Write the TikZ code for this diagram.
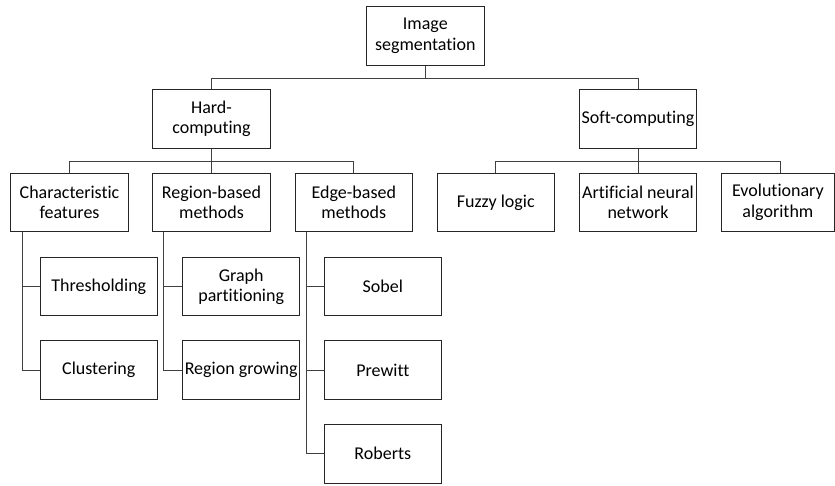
\documentclass[tikz,border=0pt]{standalone}
\usepackage{fontspec}
\setmainfont{Carlito}[Ligatures={NoCommon}]
\begin{document}
\begin{tikzpicture}[x=1pt,y=-1pt,
  box/.style={draw=black!85, line width=1pt, fill=white, align=center,
    minimum width=117.5pt, minimum height=58.5pt, inner sep=1pt,
    font=\fontsize{18}{20.5}\selectfont},
  link/.style={draw=black!75, line width=1pt}]
\useasboundingbox (0,0) rectangle (835,485);

% top two levels
\node[box] (root) at (425.3,36) {Image\\segmentation};
\node[box] (hard) at (211.5,119) {Hard-\\computing};
\node[box] (soft) at (638,119) {Soft-computing};

% categories
\node[box] (char) at (69.5,202.5) {Characteristic\\features};
\node[box] (region) at (211.5,202.5) {Region-based\\methods};
\node[box] (edge) at (353.8,202.5) {Edge-based\\methods};
\node[box] (fuzzy) at (495.8,202.5) {Fuzzy logic};
\node[box] (ann) at (638,202.5) {Artificial neural\\network};
\node[box, minimum width=112.5pt] (evo) at (777.9,202.5) {Evolutionary\\algorithm};

% methods
\node[box] (thresh) at (98.8,286.7) {Thresholding};
\node[box] (clust) at (98.8,370.2) {Clustering};
\node[box] (graph) at (241.2,286.7) {Graph\\partitioning};
\node[box] (grow) at (241.2,370.2) {Region growing};
\node[box] (sobel) at (382.8,286.7) {Sobel};
\node[box] (prewitt) at (382.8,370.2) {Prewitt};
\node[box] (roberts) at (382.8,453.8) {Roberts};

% tree connectors
\coordinate (j0) at (0,78);
\coordinate (j1) at (0,161.7);
\coordinate (evotop) at ([xshift=2.8pt]evo.north);

\draw[link] (root.south) -- (root.south |- j0);
\draw[link] (hard.north) -- (hard.north |- j0) -- (soft.north |- j0) -- (soft.north);

\draw[link] (hard.south) -- (hard.south |- j1);
\draw[link] (char.north) -- (char.north |- j1) -- (edge.north |- j1) -- (edge.north);
\draw[link] (region.north) -- (region.north |- j1);

\draw[link] (soft.south) -- (soft.south |- j1);
\draw[link] (fuzzy.north) -- (fuzzy.north |- j1) -- (evotop |- j1) -- (evotop);
\draw[link] (ann.north) -- (ann.north |- j1);

% vertical spines to the leaf boxes
\coordinate (cs) at ([xshift=12pt]char.south west);
\coordinate (rs) at ([xshift=11.3pt]region.south west);
\coordinate (es) at ([xshift=11.7pt]edge.south west);

\draw[link] (cs) -- (cs |- clust.west) -- (clust.west);
\draw[link] (cs |- thresh.west) -- (thresh.west);
\draw[link] (rs) -- (rs |- grow.west) -- (grow.west);
\draw[link] (rs |- graph.west) -- (graph.west);
\draw[link] (es) -- (es |- roberts.west) -- (roberts.west);
\draw[link] (es |- sobel.west) -- (sobel.west);
\draw[link] (es |- prewitt.west) -- (prewitt.west);
\end{tikzpicture}
\end{document}
